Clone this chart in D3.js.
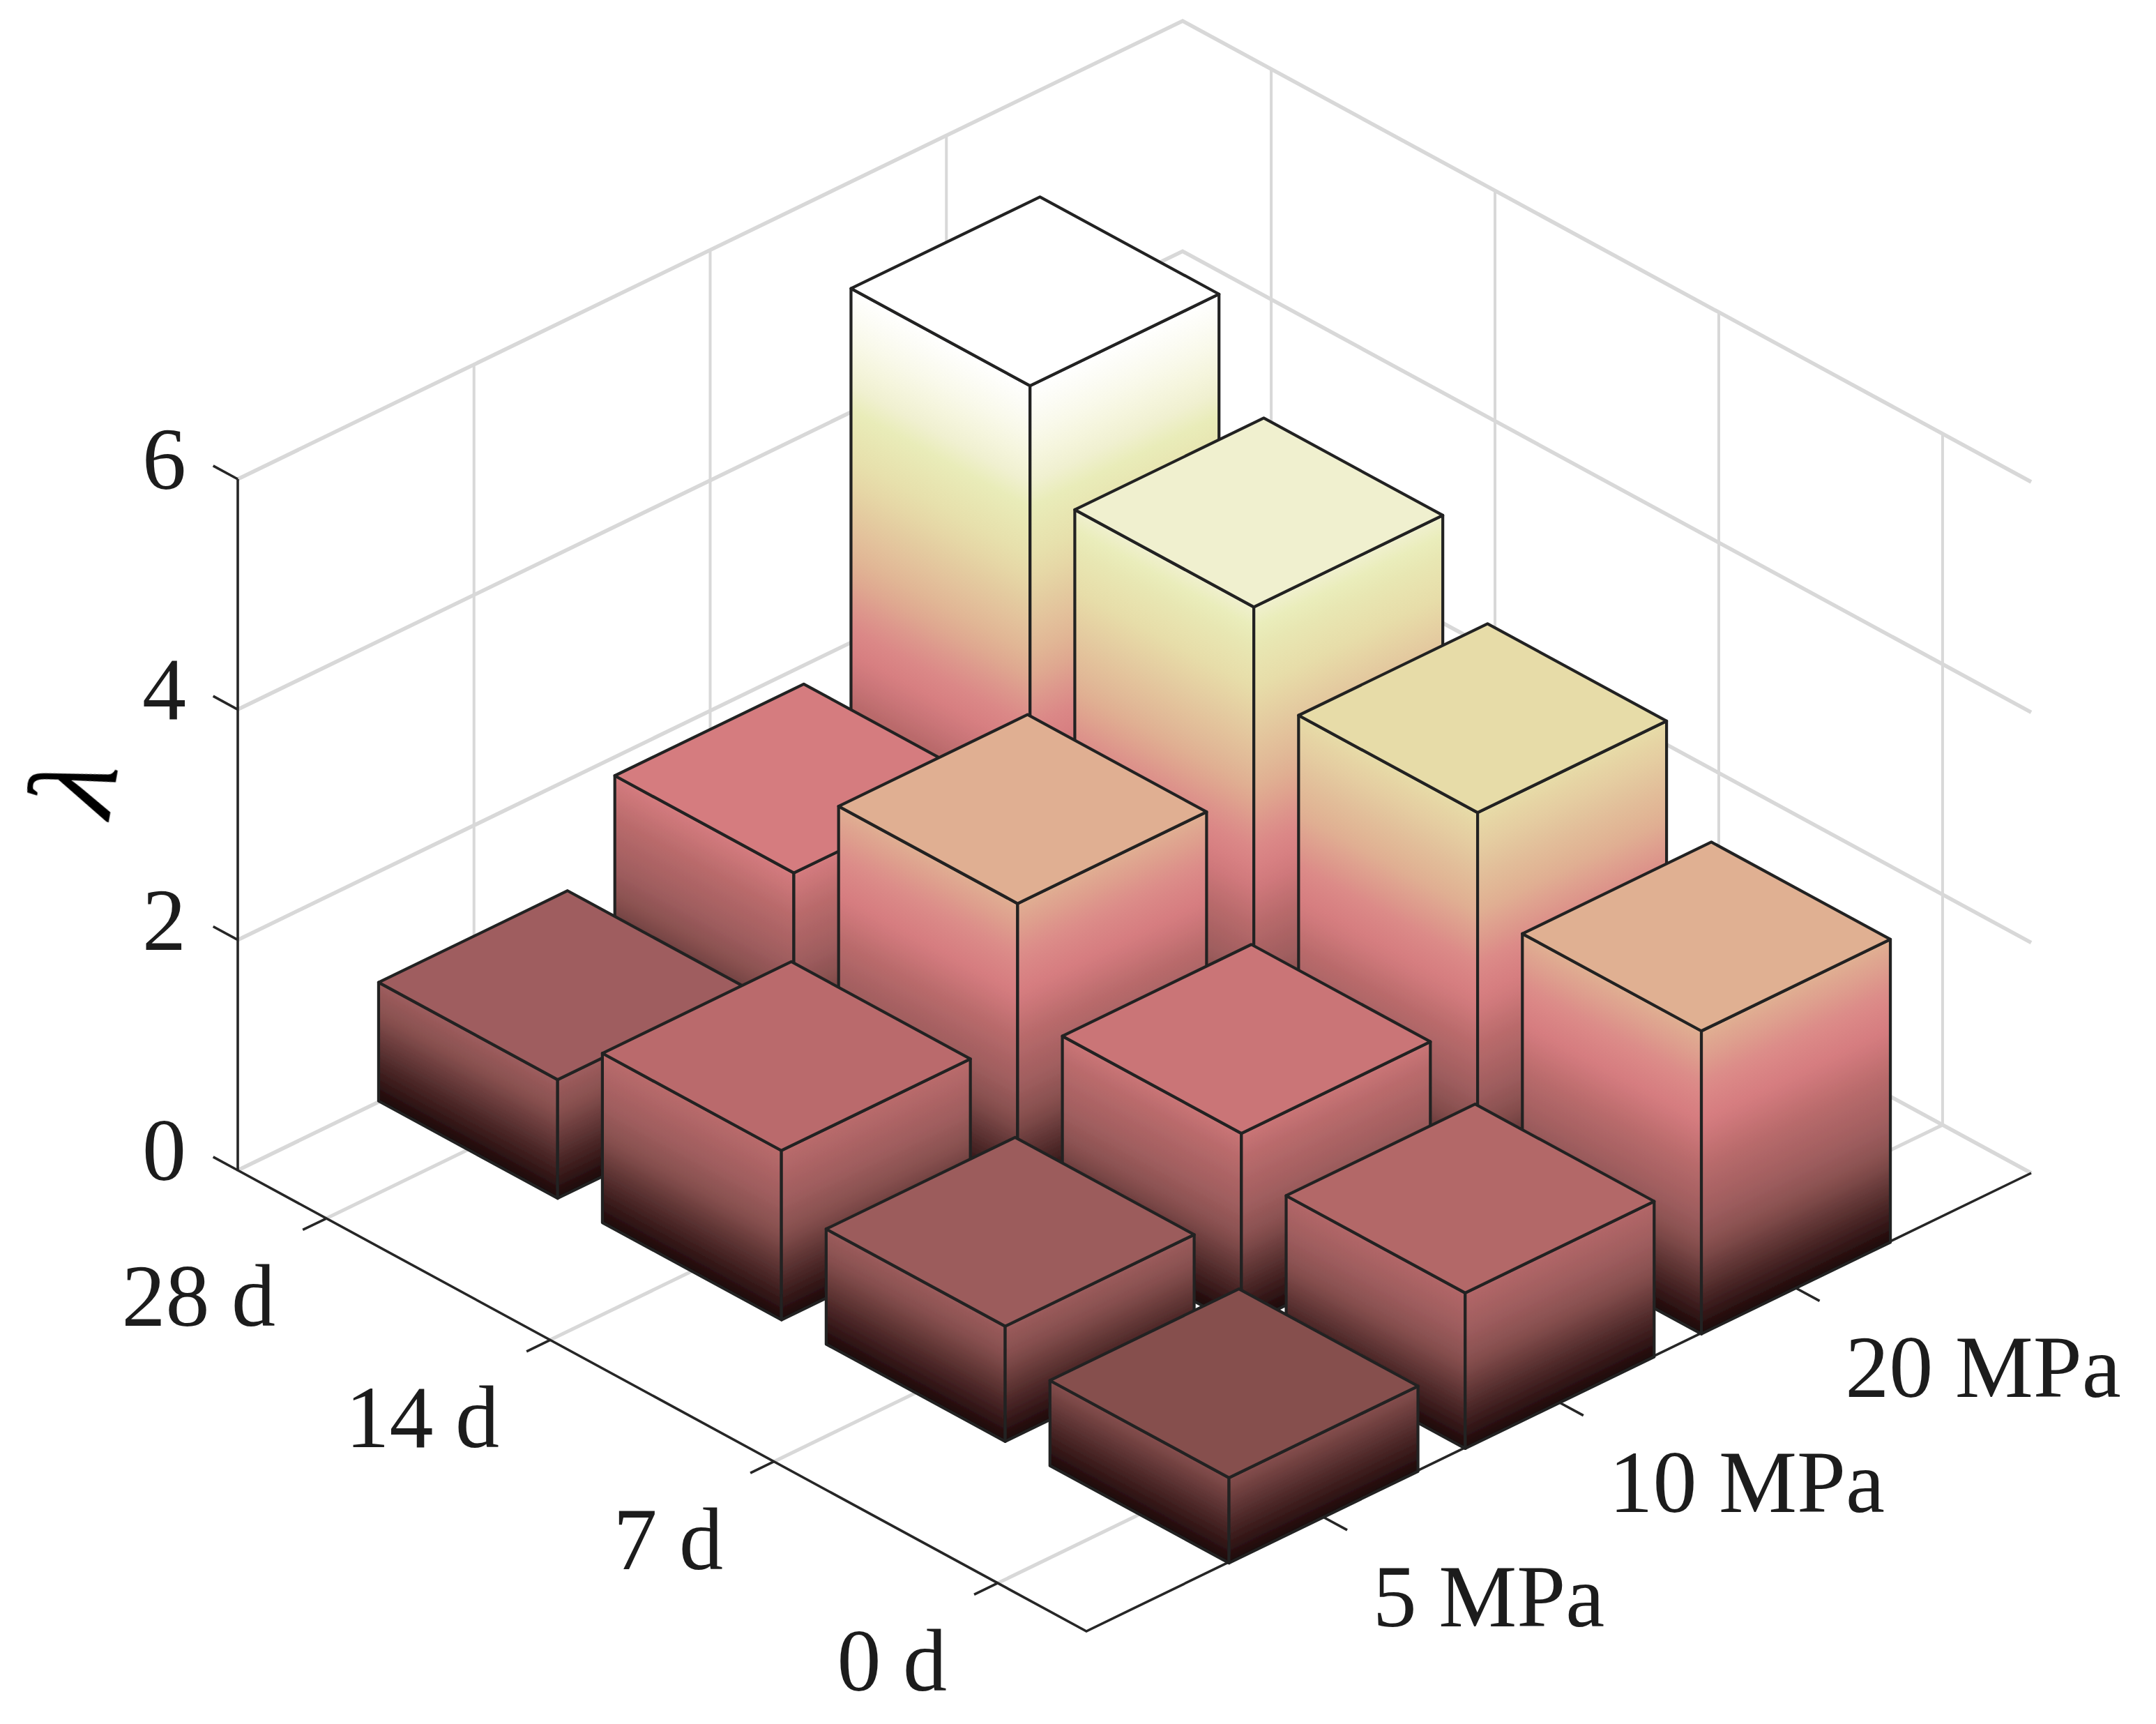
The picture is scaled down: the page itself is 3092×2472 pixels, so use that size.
<!DOCTYPE html>
<html>
<head>
<meta charset="utf-8">
<script src="https://cdnjs.cloudflare.com/ajax/libs/d3/7.8.5/d3.min.js"></script>
<style>html,body{margin:0;background:#fff}svg{display:block}</style>
</head>
<body>
<div id="chart"></div>
<script>
const days = ["0 d", "7 d", "14 d", "28 d"];
const pressures = ["5 MPa", "10 MPa", "20 MPa"];
const lambda5MPa = [0.74, 1.0, 1.47, 1.03];
const lambda10MPa = [1.35, 1.68, 2.62, 1.83];
const lambda20MPa = [2.63, 3.47, 4.2, 5.065];
const lambdaSeries = [lambda5MPa, lambda10MPa, lambda20MPa];
const zTicks = [0, 2, 4, 6];
const colorLevels = [0, 0.74, 1.03, 1.47, 1.83, 2.15, 2.62, 3.47, 4.0, 4.2, 4.6, 5.065];
const colorValues = ["#1c0708", "#864f4e", "#9f5d5e", "#ba6b6c", "#d57c7f", "#dc8a88", "#e0af92", "#e7dca8", "#e9ecb8", "#f0f0cf", "#f8f8e8", "#ffffff"];

const W = 3092, H = 2472;
// axis corners of the isometric box
const F = [1558, 2339], L = [341, 1678], R = [2913, 1682];
const dayScale = d3.scaleLinear().domain([-0.396, 3.396]).range([0, 1]); // 0 at front corner -> 1 at left corner
const mpaScale = d3.scaleLinear().domain([-1, 3]).range([0, 1]);         // 0 at front corner -> 1 at right corner
const zScale = d3.scaleLinear().domain([0, 6]).range([0, 991]);
const color = d3.scaleLinear().domain(colorLevels).range(colorValues).interpolate(d3.interpolateRgb).clamp(true);

function project(d, m, z) {
  const a = dayScale(d), b = mpaScale(m);
  return [
    F[0] + a * (L[0] - F[0]) + b * (R[0] - F[0]),
    F[1] + a * (L[1] - F[1]) + b * (R[1] - F[1]) - zScale(z)
  ];
}
const dLim = dayScale.domain(), mLim = mpaScale.domain();
const svgRoot = d3.select("#chart").append("svg").attr("width", W).attr("height", H).attr("viewBox", `0 0 ${W} ${H}`);
svgRoot.append("rect").attr("width", W).attr("height", H).attr("fill", "#fff");
const defs = svgRoot.append("defs");
defs.append("filter").attr("id", "soft").attr("filterUnits", "userSpaceOnUse")
  .attr("x", 0).attr("y", 0).attr("width", W).attr("height", H)
  .append("feGaussianBlur").attr("stdDeviation", 0.7);
const svg = svgRoot.append("g").attr("filter", "url(#soft)");
const line = d3.line();

// ---- grid
const grid = svg.append("g").attr("fill", "none").attr("stroke", "#d8d8d8").attr("stroke-linejoin", "miter");
const gridSegs = [];
zTicks.forEach(z => {
  gridSegs.push({w: 5.5, p: [project(dLim[1], mLim[0], z), project(dLim[1], mLim[1], z), project(dLim[0], mLim[1], z)]});
});
days.forEach((_, i) => {
  gridSegs.push({w: 4, p: [project(i, mLim[1], 0), project(i, mLim[1], 6)]});
  gridSegs.push({w: 5, p: [project(i, mLim[0], 0), project(i, mLim[1], 0)]});
});
pressures.forEach((_, j) => {
  gridSegs.push({w: 4, p: [project(dLim[1], j, 0), project(dLim[1], j, 6)]});
  gridSegs.push({w: 5, p: [project(dLim[0], j, 0), project(dLim[1], j, 0)]});
});
grid.selectAll("path").data(gridSegs).join("path").attr("d", s => line(s.p)).attr("stroke-width", s => s.w);

// ---- axes
const axes = svg.append("g").attr("fill", "none").attr("stroke", "#262626").attr("stroke-width", 3.6);
axes.append("path").attr("d", line([project(dLim[1], mLim[0], 6), project(dLim[1], mLim[0], 0), project(dLim[0], mLim[0], 0), project(dLim[0], mLim[1], 0)]));
const tickD = 0.11, tickM = 0.1;
zTicks.forEach(z => axes.append("path").attr("d", line([project(dLim[1], mLim[0], z), project(dLim[1] + tickD, mLim[0], z)])));
days.forEach((_, i) => axes.append("path").attr("d", line([project(i, mLim[0], 0), project(i, mLim[0] - tickM, 0)])));
pressures.forEach((_, j) => axes.append("path").attr("d", line([project(dLim[0], j, 0), project(dLim[0] - tickD, j, 0)])));

// ---- bars (back to front)
const halfW = 0.4;
const bars = svg.append("g").attr("stroke", "#222222").attr("stroke-width", 4.2).attr("stroke-linejoin", "round");
let gid = 0;
function faceGradient(p0, p1, h) {
  // gradient runs across the iso-height lines of the face, from z=0 to z=h
  const dx = p1[0] - p0[0], dy = p1[1] - p0[1], len = Math.hypot(dx, dy);
  const nx = -dy / len, ny = dx / len;
  const up = -zScale(h);
  const proj = up * ny;
  const id = "g" + (gid++);
  const g = defs.append("linearGradient").attr("id", id).attr("gradientUnits", "userSpaceOnUse")
    .attr("x1", p0[0]).attr("y1", p0[1]).attr("x2", p0[0] + nx * proj).attr("y2", p0[1] + ny * proj);
  const n = 24;
  d3.range(n + 1).forEach(k => {
    g.append("stop").attr("offset", k / n).attr("stop-color", color(h * k / n));
  });
  return `url(#${id})`;
}
d3.range(pressures.length - 1, -1, -1).forEach(j => {
  d3.range(days.length - 1, -1, -1).forEach(i => {
    const h = lambdaSeries[j][i];
    const fb = project(i - halfW, j - halfW, 0), lb = project(i + halfW, j - halfW, 0), rb = project(i - halfW, j + halfW, 0);
    const ft = project(i - halfW, j - halfW, h), lt = project(i + halfW, j - halfW, h), rt = project(i - halfW, j + halfW, h), bt = project(i + halfW, j + halfW, h);
    const g = bars.append("g");
    g.append("path").attr("d", line([lb, fb, ft, lt]) + "Z").attr("fill", faceGradient(lb, fb, h));
    g.append("path").attr("d", line([fb, rb, rt, ft]) + "Z").attr("fill", faceGradient(fb, rb, h));
    g.append("path").attr("d", line([lt, ft, rt, bt]) + "Z").attr("fill", color(h));
  });
});

// ---- text
const font = "'Liberation Serif','Times New Roman',serif", fs = 126, ink = "#1f1f1f";
const labels = svg.append("g").attr("font-family", font).attr("font-size", fs).attr("fill", ink);
zTicks.forEach(z => {
  const p = project(dLim[1], mLim[0], z);
  labels.append("text").attr("x", p[0] - 74).attr("y", p[1] + 14).attr("text-anchor", "end").text(z);
});
days.forEach((t, i) => {
  const p = project(i, mLim[0], 0);
  labels.append("text").attr("x", p[0] - 73).attr("y", p[1] + 154).attr("text-anchor", "end").text(t);
});
pressures.forEach((t, j) => {
  const p = project(dLim[0], j, 0);
  labels.append("text").attr("x", p[0] + 72).attr("y", p[1] + 157).attr("text-anchor", "start").text(t);
});
svg.append("text").attr("transform", "translate(156,1175) rotate(-80)")
  .attr("font-family", font).attr("font-style", "italic").attr("font-size", 176).attr("fill", "#000").text("λ");
</script>
</body>
</html>
